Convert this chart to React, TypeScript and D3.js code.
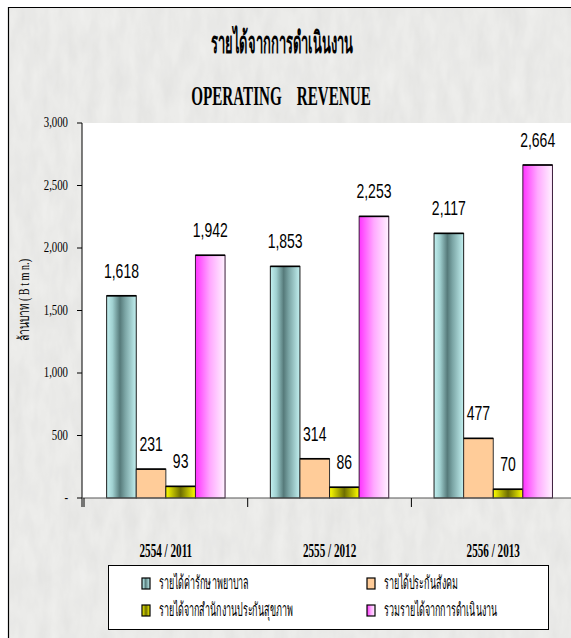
import React from "react";
import * as d3 from "d3";

const categories = ["2554 / 2011", "2555 / 2012", "2556 / 2013"];
const seriesNames = [
  "รายได้ค่ารักษาพยาบาล",
  "รายได้ประกันสังคม",
  "รายได้จากสำนักงานประกันสุขภาพ",
  "รวมรายได้จากการดำเนินงาน",
];
const medicalRevenue = [1618, 1853, 2117];
const socialSecurityRevenue = [231, 314, 477];
const nhsoRevenue = [93, 86, 70];
const totalRevenue = [1942, 2253, 2664];
const yTicks = [0, 500, 1000, 1500, 2000, 2500, 3000];
const yTickLabels = ["-", "500", "1,000", "1,500", "2,000", "2,500", "3,000"];

const seriesValues = [medicalRevenue, socialSecurityRevenue, nhsoRevenue, totalRevenue];
const fills = ["url(#gTeal)", "#ffcc99", "url(#gYellow)", "url(#gPink)"];
const strokes = ["#1a1a1a", "#333333", "#1a1a1a", "#3a1a3a"];

const W = 571;
const H = 638;
const plotLeft = 82;
const plotTop = 123;
const plotBottom = 498;

export default function App() {
  const y = d3.scaleLinear().domain([0, 3000]).range([plotBottom, plotTop]);
  const x = d3.scaleBand<string>().domain(categories).range([84, 84 + 3 * 163.7]).padding(0);
  const xs = d3
    .scaleBand<string>()
    .domain(seriesNames)
    .range([0, x.bandwidth()])
    .paddingInner(0)
    .paddingOuter(0.765);
  const fmt = d3.format(",");

  return (
    <svg
      width={W}
      height={H}
      style={{ position: "absolute", left: 0, top: 0 }}
      xmlns="http://www.w3.org/2000/svg"
    >
      <defs>
        <linearGradient id="gTeal" x1="0" x2="1" y1="0" y2="0">
          <stop offset="0" stopColor="#c2f0f0" />
          <stop offset="0.2" stopColor="#a0d0d0" />
          <stop offset="0.45" stopColor="#567a7a" />
          <stop offset="0.62" stopColor="#7aa4a4" />
          <stop offset="1" stopColor="#c2f0f0" />
        </linearGradient>
        <linearGradient id="gYellow" x1="0" x2="1" y1="0" y2="0">
          <stop offset="0" stopColor="#ffff00" />
          <stop offset="0.5" stopColor="#6e6e00" />
          <stop offset="1" stopColor="#ffff00" />
        </linearGradient>
        <linearGradient id="gPink" x1="0" x2="1" y1="0" y2="0">
          <stop offset="0" stopColor="#ff33ff" />
          <stop offset="0.5" stopColor="#ffaaff" />
          <stop offset="1" stopColor="#fff2ff" />
        </linearGradient>
        <filter id="paper" x="0" y="0" width="100%" height="100%">
          <feTurbulence type="fractalNoise" baseFrequency="0.08 0.03" numOctaves="3" seed="4" result="n" />
          <feColorMatrix
            in="n"
            type="matrix"
            values="0 0 0 0 0.6  0 0 0 0 0.6  0 0 0 0 0.6  0 0 0 0.3 0"
            result="c"
          />
          <feComposite in="c" in2="SourceGraphic" operator="in" result="m" />
          <feBlend in="SourceGraphic" in2="m" mode="multiply" />
        </filter>
      </defs>

      {/* background */}
      <rect x={0} y={0} width={W} height={H} fill="#ffffff" />
      <rect x={8} y={7} width={W - 8} height={H - 7} fill="#f0f0ee" filter="url(#paper)" />
      <line x1={8.5} y1={7} x2={8.5} y2={H} stroke="#000" strokeWidth={1.2} />
      <line x1={8} y1={7.5} x2={W} y2={7.5} stroke="#000" strokeWidth={1.2} />

      {/* titles */}
      <text
        transform={`translate(282,53) scale(0.54,1.25)`}
        textAnchor="middle"
        fontFamily="'Liberation Serif', serif"
        fontWeight="bold"
        fontSize={24}
        fill="#000"
      >
        รายได้จากการดำเนินงาน
      </text>
      <text
        transform={`translate(281,105) scale(0.56,1)`}
        textAnchor="middle"
        fontFamily="'Liberation Serif', serif"
        fontWeight="bold"
        fontSize={27}
        fill="#000"
        style={{ whiteSpace: "pre" }}
      >
        {"OPERATING    REVENUE"}
      </text>

      {/* plot area */}
      <rect x={plotLeft} y={plotTop} width={W - plotLeft} height={plotBottom - plotTop} fill="#ffffff" />

      {/* y axis */}
      <line x1={plotLeft} y1={plotTop} x2={plotLeft} y2={plotBottom + 9} stroke="#000" strokeWidth={1} />
      {yTicks.map((t, i) => (
        <g key={t}>
          <line x1={plotLeft - 5} x2={plotLeft} y1={y(t)} y2={y(t)} stroke="#000" />
          <text
            transform={`translate(${68},${y(t) + 4}) scale(0.72,1)`}
            textAnchor="end"
            fontFamily="'Liberation Serif', serif"
            fontSize={15}
            fill="#000"
          >
            {yTickLabels[i]}
          </text>
        </g>
      ))}
      <text
        transform={`translate(29,300) rotate(-90) scale(0.68,1)`}
        textAnchor="middle"
        fontFamily="'Liberation Serif', serif"
        fontWeight="normal"
        fontSize={15}
        fill="#000"
        style={{ whiteSpace: "pre" }}
      >
        {"ล้านบาท ( B t m n.)"}
      </text>

      {/* bars */}
      {categories.map((c, ci) => (
        <g key={c}>
          {seriesNames.map((s, si) => {
            const v = seriesValues[si][ci];
            const bx = (x(c) as number) + (xs(s) as number);
            const bw = xs.bandwidth();
            return (
              <g key={s}>
                <rect
                  x={bx}
                  y={y(v)}
                  width={bw}
                  height={plotBottom - y(v)}
                  fill={fills[si]}
                  stroke={strokes[si]}
                  strokeWidth={1}
                />
                <line x1={bx} x2={bx + bw} y1={y(v)} y2={y(v)} stroke="#000" strokeWidth={1.6} />
                <text
                  transform={`translate(${bx + bw / 2},${y(v) - 18}) scale(0.7,1)`}
                  textAnchor="middle"
                  fontFamily="'Liberation Sans', Arial, sans-serif"
                  fontSize={20}
                  fill="#000"
                >
                  {fmt(v)}
                </text>
              </g>
            );
          })}
        </g>
      ))}

      {/* x axis */}
      <line x1={plotLeft} x2={W} y1={plotBottom} y2={plotBottom} stroke="#555" strokeWidth={1} />
      {categories.map((c) => (
        <line
          key={"t" + c}
          x1={x(c) as number}
          x2={x(c) as number}
          y1={plotBottom}
          y2={plotBottom + 9}
          stroke="#000"
        />
      ))}
      {categories.map((c) => (
        <text
          key={"l" + c}
          transform={`translate(${(x(c) as number) + x.bandwidth() / 2},${557}) scale(0.62,1.05)`}
          textAnchor="middle"
          fontFamily="'Liberation Serif', serif"
          fontWeight="bold"
          fontSize={18}
          fill="#000"
          style={{ whiteSpace: "pre" }}
        >
          {c}
        </text>
      ))}

      {/* legend */}
      <rect x={108.5} y={565.5} width={440} height={64} fill="#ffffff" stroke="#000" strokeWidth={1} />
      {seriesNames.map((s, si) => {
        const col = si % 2;
        const row = Math.floor(si / 2);
        const lx = col === 0 ? 142 : 367;
        const ly = row === 0 ? 578 : 605;
        return (
          <g key={"lg" + s}>
            <rect x={lx} y={ly} width={8} height={11} fill={fills[si]} stroke="#000" strokeWidth={1.2} />
            <text
              transform={`translate(${lx + 17},${ly + 11}) scale(0.56,1.15)`}
              fontFamily="'Liberation Serif', serif"
              fontSize={16}
              fill="#000"
            >
              {s}
            </text>
          </g>
        );
      })}
    </svg>
  );
}
